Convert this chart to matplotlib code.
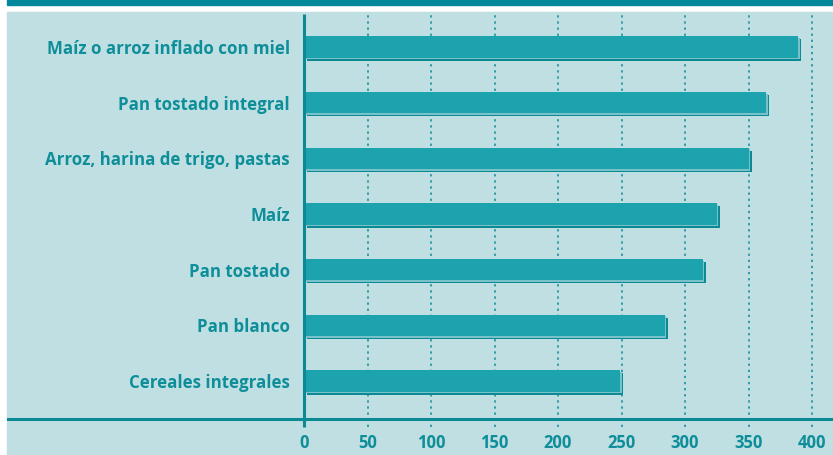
import matplotlib.pyplot as plt
import matplotlib.patheffects as pe
from matplotlib.patches import Rectangle
from matplotlib.lines import Line2D

categorias = ['Cereales integrales', 'Pan blanco', 'Pan tostado', 'Maíz',
              'Arroz, harina de trigo, pastas', 'Pan tostado integral',
              'Maíz o arroz inflado con miel']
valores = [249, 284, 314, 325, 350, 364, 389]
ticks = [0, 50, 100, 150, 200, 250, 300, 350, 400]

fondo = '#c0dfe3'
oscuro = '#0b8a94'
barra = '#1ca3ae'
texto = '#0e8e99'

W, H = 833, 455
fig = plt.figure(figsize=(W / 100, H / 100), dpi=100)

# banda superior y panel
fig.patches.append(Rectangle((7 / W, 1 - 5 / H), 1, 5 / H, transform=fig.transFigure,
                             color='#00899a', zorder=-10))
fig.patches.append(Rectangle((7 / W, 0), 1, 1 - 12 / H, transform=fig.transFigure,
                             color=fondo, zorder=-10))

x0, y_top, y_bot = 304, 14, 419
ax = fig.add_axes([x0 / W, 1 - y_bot / H, (W - x0) / W, (y_bot - y_top) / H])
ax.set_zorder(2)
ax.patch.set_visible(False)
ax.set_xlim(0, (W - x0) / 1.27)
ax.set_ylim(-0.683, 6.593)

for s in ax.spines.values():
    s.set_visible(False)

trans = ax.get_xaxis_transform()
for t in ticks[1:]:
    ax.plot([t, t], [-0.02, 1], transform=trans, color=oscuro, lw=1.1,
            ls=(0, (1.5, 2.5)), clip_on=False, zorder=1)
ax.plot([0, 0], [-0.02, 1], transform=trans, color=oscuro, lw=2.2,
        clip_on=False, zorder=4, solid_capstyle='butt')

y = range(len(categorias))
bars = ax.barh(y, valores, height=0.38, color=barra, zorder=3)
for b in bars:
    b.set_path_effects([
        pe.SimplePatchShadow(offset=(2.2, -2.2), shadow_rgbFace=oscuro, alpha=1),
        pe.SimplePatchShadow(offset=(1.2, -1.2), shadow_rgbFace='#79c2c9', alpha=1),
        pe.Normal()])

# eje horizontal
fig.lines.append(Line2D([8 / W, 1], [1 - y_bot / H] * 2, transform=fig.transFigure,
                        color=oscuro, lw=2.2, zorder=1))

ax.set_yticks(list(y))
ax.set_yticklabels(categorias)
ax.set_xticks(ticks)
ax.set_xticklabels([str(t) for t in ticks])
ax.tick_params(axis='y', length=0, pad=10, labelsize=12.2, labelcolor=texto)
ax.tick_params(axis='x', length=0, pad=10.5, labelsize=12, labelcolor=texto)
for lab in ax.get_yticklabels() + ax.get_xticklabels():
    lab.set_fontfamily('Open Sans')
    lab.set_fontweight('bold')

fig.savefig('out.png', dpi=100, facecolor='white')
